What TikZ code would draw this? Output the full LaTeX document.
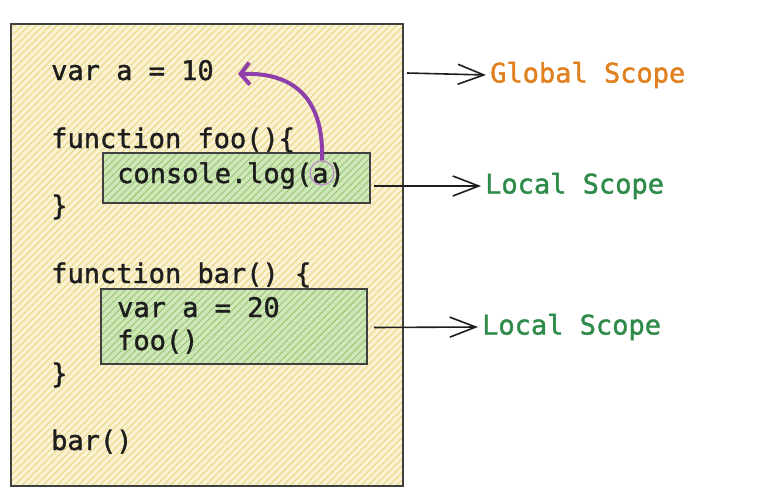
\documentclass[tikz,border=0pt]{standalone}
\usepackage{fontspec}
\newfontfamily\codefont[FakeBold=1.4]{DejaVu Sans Mono}
\usetikzlibrary{arrows.meta,patterns.meta}
\definecolor{codeink}{HTML}{1E1E1E}
\definecolor{globalfill}{HTML}{FAF2D2}
\definecolor{globalhatch}{HTML}{E8D47E}
\definecolor{localfill}{HTML}{CFE6B8}
\definecolor{localhatch}{HTML}{93C770}
\definecolor{globalorange}{HTML}{E0801E}
\definecolor{localgreen}{HTML}{2E8B4A}
\definecolor{lookup}{HTML}{8E3FAA}
\tikzset{
  code/.style={anchor=base west,inner sep=0pt,text=codeink,
    font=\codefont\fontsize{27}{32}\selectfont},
  scopelabel/.style={anchor=west,inner sep=4pt,
    font=\codefont\fontsize{27}{32}\selectfont},
  hatched/.style 2 args={preaction={fill=#1},
    preaction={pattern={Lines[angle=45,distance=5pt,line width=0.9pt]},pattern color=#2}},
  globalbox/.style={draw=codeink!85,line width=2pt,hatched={globalfill}{globalhatch},
    anchor=north west,inner sep=0pt},
  localbox/.style={draw=codeink!85,line width=2pt,hatched={localfill}{localhatch},
    anchor=north west,inner sep=0pt},
  scopearrow/.style={codeink,line width=1.6pt,-{Straight Barb[length=26pt,width=20pt]}}
}
\begin{document}
\begin{tikzpicture}[x=1pt,y=-1pt]
  \useasboundingbox[fill=white] (0,0) rectangle (780,493);
  % scope boxes
  \node[globalbox,minimum width=392,minimum height=462] (globalscope) at (10,23) {};
  \node[localbox,minimum width=267,minimum height=50] (fooscope) at (102,152) {};
  \node[localbox,minimum width=266,minimum height=75] (barscope) at (100,288) {};
  % code
  \node[code] (line1) at (51,80) {var a = 10};
  \node[code] (line2) at (51,148) {function foo()\{};
  \node[code] (line3) at (117,183) {console.log(a)};
  \node[code] (line4) at (51,215) {\}};
  \node[code] (line5) at (51,283) {function bar() \{};
  \node[code] (line6) at (117,317) {var a = 20};
  \node[code] (line7) at (117,350) {foo()};
  \node[code] (line8) at (51,383) {\}};
  \node[code] (line9) at (51,450) {bar()};
  % labels
  \node[scopelabel,text=globalorange] (globallbl) at (486,75) {Global Scope};
  \node[scopelabel,text=localgreen] (foolbl) at (481,186) {Local Scope};
  \node[scopelabel,text=localgreen] (barlbl) at (478,327) {Local Scope};
  \coordinate (gstart) at (407,73);
  \draw[scopearrow] (gstart) -- (globallbl.west);
  \draw[scopearrow] ([xshift=3pt,yshift=-8pt]fooscope.east) -- (foolbl.west);
  \draw[scopearrow] ([xshift=6pt,yshift=-1pt]barscope.east) -- (barlbl.west);
  % lookup of a
  \node[circle,draw=lookup!60,line width=1.2pt,minimum size=24,inner sep=0pt] (aref) at (322,173) {};
  \coordinate (adef) at (238,74);
  \draw[lookup,line width=4pt,-{Straight Barb[length=9pt,width=22pt]}]
    (aref.north) .. controls (324,105) and (300,72) .. (adef);
\end{tikzpicture}
\end{document}
